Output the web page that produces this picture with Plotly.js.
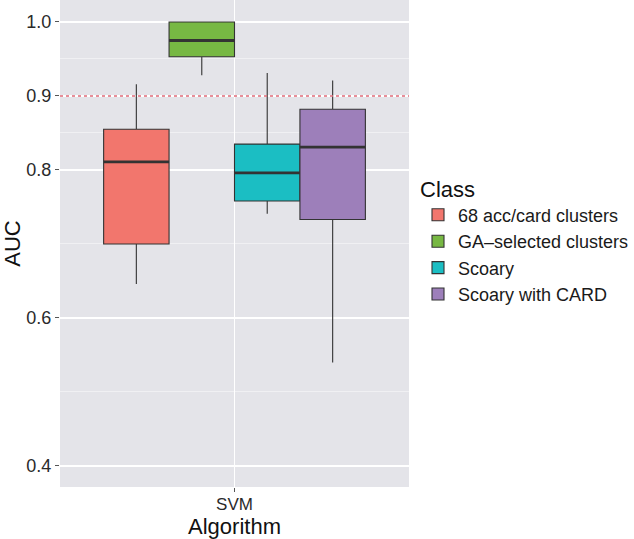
<!DOCTYPE html>
<html>
<head>
<meta charset="utf-8">
<script src="https://cdn.plot.ly/plotly-3.0.1.min.js"></script>
<style>html,body{margin:0;padding:0;background:#fff}#chart{width:634px;height:539px}</style>
</head>
<body>
<div id="chart"></div>
<script>
var categories = ["SVM"];
var classes = ["68 acc/card clusters", "GA\u2013selected clusters", "Scoary", "Scoary with CARD"];
var colors = ["#F2766D", "#77B843", "#1BBEC3", "#9D7FBA"];
var lowerFence = [0.646, 0.928, 0.741, 0.540];
var q1 = [0.700, 0.953, 0.758, 0.733];
var median = [0.811, 0.975, 0.796, 0.831];
var q3 = [0.855, 1.000, 0.835, 0.882];
var upperFence = [0.916, 1.000, 0.931, 0.921];
var yTickVals = [0.4, 0.6, 0.8, 0.9, 1.0];
var yTickText = ["0.4", "0.6", "0.8", "0.9", "1.0"];
var yMinorVals = [0.5, 0.7, 0.85, 0.95];
var threshold = 0.9;

var traces = [];
for (var i = 0; i < classes.length; i++) {
  traces.push({
    type: "box", name: classes[i], x: categories,
    q1: [q1[i]], median: [median[i]], q3: [q3[i]],
    lowerfence: [lowerFence[i]], upperfence: [upperFence[i]],
    offsetgroup: "g" + i, legendgroup: "g" + i,
    fillcolor: colors[i], line: {color: "#333333", width: 1.1},
    whiskerwidth: 0, hoverinfo: "skip"
  });
}
for (var j = 0; j < classes.length; j++) {
  traces.push({
    type: "box", name: classes[j], x: categories, showlegend: false,
    q1: [median[j]], median: [median[j]], q3: [median[j]],
    lowerfence: [median[j]], upperfence: [median[j]],
    offsetgroup: "g" + j, legendgroup: "g" + j,
    fillcolor: "rgba(0,0,0,0)", line: {color: "#333333", width: 2.8},
    whiskerwidth: 0, hoverinfo: "skip"
  });
}

var layout = {
  width: 634, height: 539,
  margin: {l: 60, r: 225, t: 0, b: 52},
  paper_bgcolor: "#ffffff", plot_bgcolor: "#E4E4E9",
  font: {family: "Liberation Sans, Arial, sans-serif", color: "#1a1a1a"},
  boxmode: "group", boxgap: 0.25, boxgroupgap: 0,
  xaxis: {
    type: "category", range: [-0.5, 0.5],
    showgrid: true, gridcolor: "#ffffff", gridwidth: 1.5,
    ticks: "outside", ticklen: 4, tickcolor: "#555555", tickwidth: 1,
    ticklabelstandoff: -2,
    tickfont: {size: 17, color: "#2a2a2a"},
    title: {text: "Algorithm", font: {size: 22, color: "#111111"}, standoff: 4},
    zeroline: false, showline: false, fixedrange: true, automargin: false
  },
  yaxis: {
    range: [0.3716, 1.0297],
    tickmode: "array", tickvals: yTickVals, ticktext: yTickText,
    showgrid: true, gridcolor: "#ffffff", gridwidth: 1.5,
    minor: {tickmode: "array", tickvals: yMinorVals, showgrid: true, gridcolor: "#F2F2F5", gridwidth: 0.8, ticks: ""},
    ticks: "outside", ticklen: 4, tickcolor: "#555555", tickwidth: 1,
    tickfont: {size: 18, color: "#2a2a2a"},
    title: {text: "AUC", font: {size: 22, color: "#111111"}, standoff: 6},
    zeroline: false, showline: false, fixedrange: true
  },
  shapes: [{
    type: "line", xref: "paper", x0: 0, x1: 1, yref: "y", y0: threshold, y1: threshold,
    line: {color: "#E06A78", width: 1.3, dash: "dot"}, layer: "above"
  }],
  legend: {
    x: 1.026, y: 0.655, xanchor: "left", yanchor: "top",
    title: {text: "Class", font: {size: 22, color: "#111111"}},
    font: {size: 18, color: "#1a1a1a"},
    bgcolor: "rgba(0,0,0,0)", tracegroupgap: 0, itemwidth: 30
  },
  showlegend: true
};

Plotly.newPlot("chart", traces, layout, {displayModeBar: false, staticPlot: true});
</script>
</body>
</html>
